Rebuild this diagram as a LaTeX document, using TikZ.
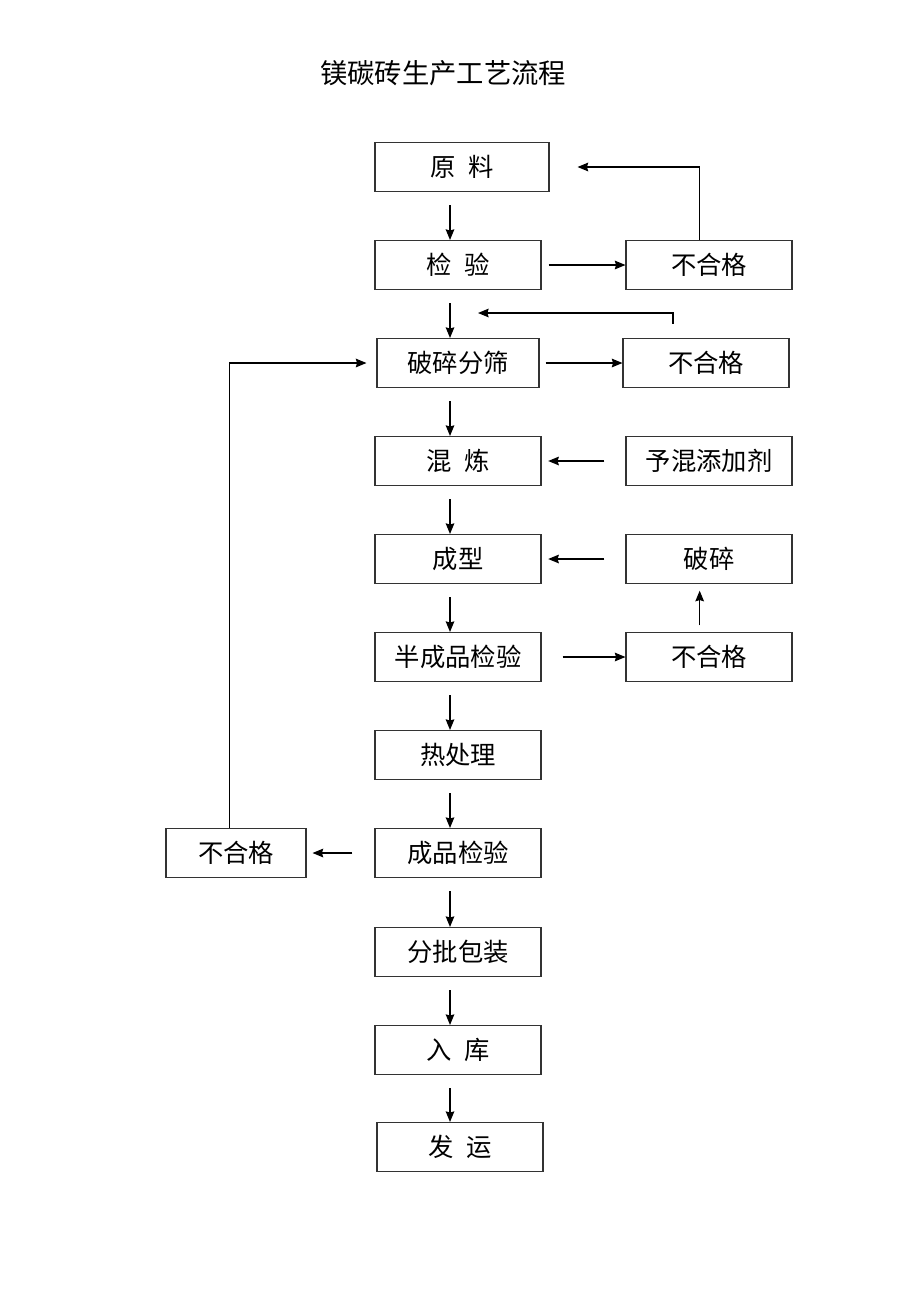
\documentclass[tikz,border=0pt]{standalone}
\usepackage{fontspec}
\setmainfont{Noto Sans CJK SC}
\usetikzlibrary{arrows.meta, positioning, calc}

\begin{document}
\begin{tikzpicture}[x=0.75pt, y=-0.75pt]
        \tikzstyle{box} = [rectangle, draw=black!80, line width=0.8pt, minimum width=124.5pt, minimum height=36.75pt, inner sep=0pt, text centered, font=\fontsize{19}{23}\selectfont]
        \tikzstyle{arrow} = [line width=0.9pt, -{Stealth[length=8pt, width=6.5pt, inset=1pt]}]

        \useasboundingbox (0,0) rectangle (920,1303);
        \node (title) at (443,73) [font=\fontsize{20.5}{24}\selectfont] {镁碳砖生产工艺流程};

        % main column
        \node (yl) at (462,167) [box, minimum width=130.5pt] {原\hspace{.5em}料};
        \node (jy) at (458,265) [box] {检\hspace{.5em}验};
        \node (psfs) at (458,363) [box, minimum width=121.5pt] {破碎分筛};
        \node (hl) at (458,461) [box] {混\hspace{.5em}炼};
        \node (cx) at (458,559) [box] {成型};
        \node (bcpjy) at (458,657) [box] {半成品检验};
        \node (rcl) at (458,755) [box] {热处理};
        \node (cpjy) at (458,853) [box] {成品检验};
        \node (fbbz) at (458,952) [box] {分批包装};
        \node (rk) at (458,1050) [box] {入\hspace{.5em}库};
        \node (fy) at (460,1147) [box] {发\hspace{.5em}运};

        % side boxes
        \node (bhg1) at (709,265) [box] {不合格};
        \node (bhg2) at (706,363) [box] {不合格};
        \node (yh) at (709,461) [box] {予混添加剂};
        \node (ps) at (709,559) [box] {破碎};
        \node (bhg3) at (709,657) [box] {不合格};
        \node (bhg4) at (236,853) [box, minimum width=105pt] {不合格};

        \coordinate (col) at (450,0);
        \coordinate (back2) at (478,313);

        \foreach \a/\b in {yl/jy, jy/psfs, psfs/hl, hl/cx, cx/bcpjy, bcpjy/rcl, rcl/cpjy, cpjy/fbbz, fbbz/rk, rk/fy}
            \draw [arrow] (\a.south -| col) ++(0,13) -- (\b.north -| col);

        \draw [arrow] (jy.east) ++(7,0) -- (bhg1.west);
        \draw [arrow, shorten >=21pt] ([xshift=-7pt]bhg1.north) |- (yl.east);
        \draw [arrow] (psfs.east) ++(6,0) -- (bhg2.west);
        \draw [arrow] ([xshift=-24.75pt]bhg2.north) ++(0,-14) |- (back2);
        \draw [arrow, shorten >=5pt] (yh.west) ++(-21,0) -- (hl.east);
        \draw [arrow, shorten >=5pt] (ps.west) ++(-21,0) -- (cx.east);
        \draw [arrow] (bcpjy.east) ++(21,0) -- (bhg3.west);
        \draw [arrow, shorten <=5pt, shorten >=5pt] ([xshift=-7pt]bhg3.north) -- ([xshift=-7pt]ps.south);
        \draw [arrow, shorten >=4.5pt] (cpjy.west) ++(-22,0) -- (bhg4.east);
        \draw [arrow, shorten >=7.5pt] ([xshift=-5pt]bhg4.north) |- (psfs.west);
    \end{tikzpicture}
\end{document}
